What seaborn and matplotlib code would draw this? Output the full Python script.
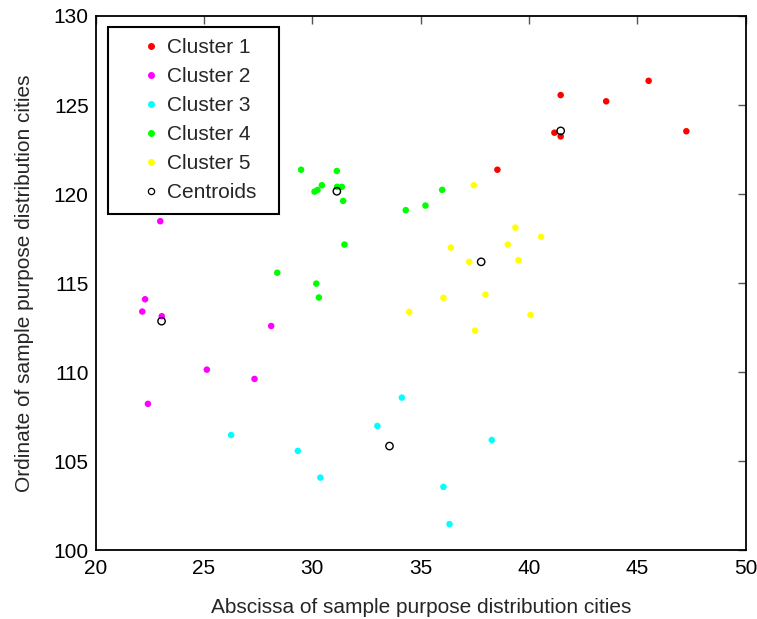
import matplotlib
matplotlib.use("Agg")
import matplotlib.pyplot as plt
import seaborn as sns
import pandas as pd
from matplotlib.lines import Line2D

c1_x = [41.46, 43.56, 45.52, 41.17, 41.46, 47.26, 38.54]
c1_y = [125.56, 125.21, 126.36, 123.45, 123.24, 123.53, 121.37]
c2_x = [22.98, 22.28, 22.15, 23.05, 28.10, 25.13, 27.33, 22.41]
c2_y = [118.48, 114.10, 113.41, 113.15, 112.60, 110.15, 109.63, 108.23]
c3_x = [34.13, 33.00, 38.28, 29.33, 30.37, 36.05, 36.33, 26.25]
c3_y = [108.58, 106.99, 106.20, 105.59, 104.09, 103.57, 101.48, 106.48]
c4_x = [29.48, 31.13, 30.44, 30.24, 30.10, 31.14, 31.36, 31.42, 35.99, 35.22,
        34.31, 31.48, 30.18, 30.30, 28.38]
c4_y = [121.37, 121.30, 120.50, 120.24, 120.14, 120.41, 120.41, 119.62, 120.24, 119.36,
        119.10, 117.17, 114.98, 114.20, 115.59]
c5_x = [37.45, 39.37, 40.56, 39.02, 36.39, 37.24, 39.51, 36.05, 37.99, 34.47, 40.07, 37.51]
c5_y = [120.50, 118.12, 117.60, 117.17, 117.00, 116.20, 116.29, 114.18, 114.36, 113.39, 113.22, 112.34]
cent_x = [41.46, 23.04, 33.56, 31.13, 37.79]
cent_y = [123.55, 112.87, 105.86, 120.16, 116.20]

cluster_names = ["Cluster 1", "Cluster 2", "Cluster 3", "Cluster 4", "Cluster 5"]
cluster_colors = ["#ff0000", "#ff00ff", "#00ffff", "#00ff00", "#ffff00"]
xs = [c1_x, c2_x, c3_x, c4_x, c5_x]
ys = [c1_y, c2_y, c3_y, c4_y, c5_y]

rows = []
for name, xv, yv in zip(cluster_names, xs, ys):
    for a, b in zip(xv, yv):
        rows.append({"x": a, "y": b, "cluster": name})
df = pd.DataFrame(rows)
cent_df = pd.DataFrame({"x": cent_x, "y": cent_y})

sns.set_style("white")
plt.rcParams["font.family"] = ["Liberation Sans", "DejaVu Sans"]

fig = plt.figure(figsize=(7.57, 6.19), dpi=100)
ax = fig.add_axes([0.1264, 0.1107, 0.8587, 0.8635])

sns.scatterplot(data=df, x="x", y="y", hue="cluster", hue_order=cluster_names,
                palette=cluster_colors, s=22, linewidth=0, ax=ax, legend=False)
sns.scatterplot(data=cent_df, x="x", y="y", s=28, marker="o", facecolor="none",
                edgecolor="black", linewidth=1.0, ax=ax, legend=False)

handles = [Line2D([], [], linestyle="none", marker="o", markersize=4,
                  markerfacecolor=c, markeredgecolor=c) for c in cluster_colors]
handles.append(Line2D([], [], linestyle="none", marker="o", markersize=4.5,
                      markerfacecolor="none", markeredgecolor="black", markeredgewidth=0.9))
leg = ax.legend(handles, cluster_names + ["Centroids"], loc="upper left",
                bbox_to_anchor=(0.019, 0.0, 0.263, 0.98), mode="expand",
                frameon=True, fancybox=False,
                fontsize=15, handlelength=3.0, handletextpad=-0.7,
                labelspacing=0.48, borderpad=0.55, borderaxespad=0.0)
leg.get_frame().set_edgecolor("black")
leg.get_frame().set_linewidth(1.5)
leg.get_frame().set_alpha(1)

ax.set_xlim(20, 50)
ax.set_ylim(100, 130)
ax.set_xticks([20, 25, 30, 35, 40, 45, 50])
ax.set_yticks([100, 105, 110, 115, 120, 125, 130])
ax.tick_params(direction="in", length=6, width=1, top=True, right=True,
               labelsize=15, color="#555555", labelcolor="black")
ax.tick_params(axis="x", pad=6)
ax.tick_params(axis="y", pad=5)
for sp in ax.spines.values():
    sp.set_color("black")
    sp.set_linewidth(1.3)
    sp.set_visible(True)

ax.set_xlabel("Abscissa of sample purpose distribution cities", fontsize=15)
ax.set_ylabel("Ordinate of sample purpose distribution cities", fontsize=15)
ax.xaxis.set_label_coords(0.5, -0.088)
ax.yaxis.set_label_coords(-0.095, 0.5)

fig.savefig("out.png", dpi=100)
